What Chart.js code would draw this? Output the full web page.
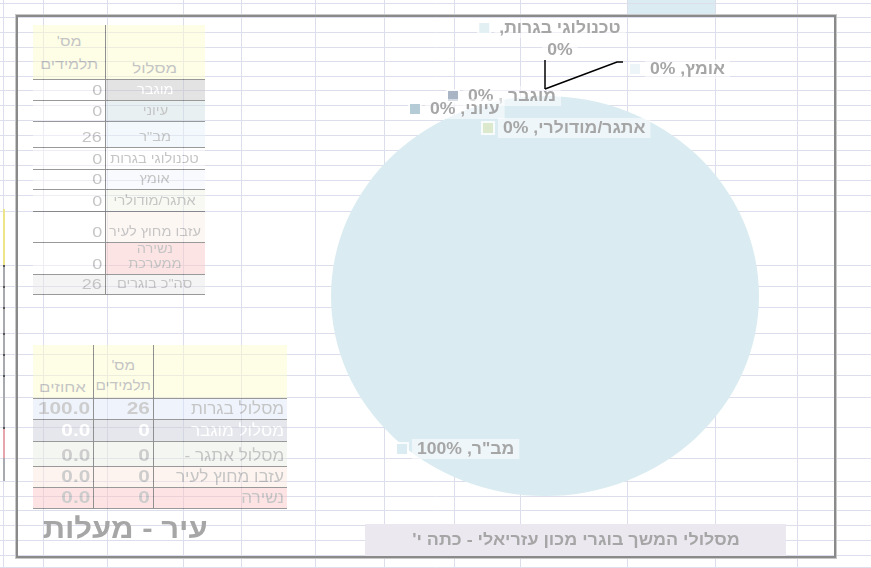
<!DOCTYPE html>
<html lang="he">
<head>
<meta charset="utf-8">
<title>מסלולי המשך</title>
<script src="https://cdn.jsdelivr.net/npm/chart.js@4/dist/chart.umd.min.js"></script>
<style>
  body { margin: 0; background: #fff; }
  #sheet { position: relative; width: 871px; height: 568px; overflow: hidden;
           font-family: "Liberation Sans", Arial, "DejaVu Sans", sans-serif; }
  #pie { position: absolute; left: 0; top: 0; }
  .tbl { position: absolute; left: 0; top: 0; opacity: 0.5; }
  .cell { position: absolute; box-sizing: border-box; display: flex; align-items: flex-end;
          justify-content: center; color: #8a8a8a; font-size: 13px; line-height: 15px;
          padding: 0 3px 3px; border-bottom: 1px solid #333; direction: rtl; text-align: center;
          white-space: nowrap; }
  .cell span { display: inline-block; }
  .num { justify-content: flex-start; }
  .vline { position: absolute; width: 1px; background: #222; }
  #city { position: absolute; right: 663px; top: 513px; font-size: 28px; font-weight: bold;
          color: #a6a6a6; direction: rtl; white-space: nowrap;
          transform: scaleX(1.11); transform-origin: right center; }
</style>
</head>
<body>
<div id="sheet">
  <canvas id="pie" width="871" height="568"></canvas>
  <div class="tbl" id="t1"></div>
  <div class="tbl" id="t2"></div>
  <div id="city">עיר - מעלות</div>
</div>
<script>
'use strict';

// pie slices
const tracks = ['מוגבר ', 'עיוני', 'מב"ר', 'טכנולוגי בגרות', 'אומץ', 'אתגר/מודולרי'];
const students = [0, 0, 26, 0, 0, 0];
const sliceColors = ['#a9b5c5', '#b5ccd6', '#daecf1', '#e2f0f3', '#eef5f8', '#dde9cd'];

// extra rows of the first table
const otherRows = ['עזבו מחוץ לעיר', 'נשירה ממערכת'];
const otherCounts = [0, 0];

// summary table
const summaryNames = ['מסלול בגרות', 'מסלול מוגבר', 'מסלול אתגר -', 'עזבו מחוץ לעיר', 'נשירה'];
const summaryCounts = [26, 0, 0, 0, 0];

const chartTitle = "מסלולי המשך בוגרי מכון עזריאלי - כתה י'";
const fontStack = '"Liberation Sans", Arial, "DejaVu Sans", sans-serif';
const greyText = '#a6a6a6';
const textStretch = 1.1;   // the sheet was captured slightly wide

// ---------- spreadsheet background ----------
const colEdges = [3, 43, 107, 183, 241, 315, 384, 454, 520, 627, 715, 797];
const rowEdges = [3, 17, 32, 47, 61, 76, 90, 105, 120, 135, 150, 165, 180, 195, 211,
                  265, 286, 307, 333, 354, 375, 397, 427, 458, 481, 496, 510, 525, 540, 555, 567];

const sheetGrid = {
    id: 'sheetGrid',
    beforeDraw(chart) {
        const ctx = chart.ctx;
        ctx.save();
        ctx.fillStyle = '#fff';
        ctx.fillRect(0, 0, chart.width, chart.height);
        ctx.fillStyle = '#daecf1';
        ctx.fillRect(627, 0, 88, 15);
        ctx.strokeStyle = '#dcdeeb';
        ctx.lineWidth = 1;
        ctx.beginPath();
        colEdges.forEach(x => { ctx.moveTo(x + 0.5, 0); ctx.lineTo(x + 0.5, chart.height); });
        rowEdges.forEach(y => { ctx.moveTo(0, y + 0.5); ctx.lineTo(chart.width, y + 0.5); });
        ctx.stroke();
        // edge of a neighbouring object cut off at the left
        ctx.fillStyle = '#a8aab0';
        ctx.fillRect(3, 209, 2, 272);
        ctx.fillStyle = '#ece58a';
        ctx.fillRect(3, 209, 2, 56);
        ctx.fillStyle = '#e6a4ac';
        ctx.fillRect(3, 427, 2, 31);
        ctx.fillStyle = '#555';
        [265, 286, 307, 333, 354, 375, 427].forEach(y => ctx.fillRect(3, y, 2, 2));
        ctx.restore();
    }
};

// the worksheet pie is a little wider than tall
const pieStretch = {
    id: 'pieStretch',
    beforeDatasetsDraw(chart, args, opts) {
        const a = chart.chartArea;
        const cx = (a.left + a.right) / 2;
        chart.ctx.save();
        chart.ctx.translate(cx, 0);
        chart.ctx.scale(opts.sx, 1);
        chart.ctx.translate(-cx, 0);
    },
    afterDatasetsDraw(chart) {
        chart.ctx.restore();
    }
};

function wideText(ctx, txt, x, y) {
    ctx.save();
    ctx.translate(x, y);
    ctx.scale(textStretch, 1);
    ctx.fillText(txt, 0, 0);
    ctx.restore();
}

const sliceLabels = {
    id: 'sliceLabels',
    afterDraw(chart, args, opts) {
        const ctx = chart.ctx;
        const meta = chart.getDatasetMeta(0);
        const values = chart.data.datasets[0].data;
        const colors = chart.data.datasets[0].backgroundColor;
        const total = values.reduce((s, v) => s + v, 0);
        const sx = chart.options.plugins.pieStretch.sx;

        ctx.save();
        ctx.font = 'bold 16px ' + fontStack;
        ctx.direction = 'rtl';
        ctx.textBaseline = 'middle';
        ctx.textAlign = 'left';
        meta.data.forEach((arc, i) => {
            const p = opts.place[i];
            const mid = (arc.startAngle + arc.endAngle) / 2;
            const ax = arc.x + Math.cos(mid) * (arc.outerRadius * sx + 7);
            const ay = arc.y + Math.sin(mid) * (arc.outerRadius + 7);
            const pct = Math.round(values[i] / total * 100) + '%';
            const name = chart.data.labels[i];
            const lines = p.wrap ? [name + ',', pct] : [name + ', ' + pct];
            const y0 = arc.y + p.dy;

            // leader line
            ctx.strokeStyle = '#000';
            ctx.lineWidth = 1.5;
            if (p.leader === 'up') {
                ctx.beginPath();
                ctx.moveTo(ax, ay);
                ctx.lineTo(ax, y0 + 32);
                ctx.stroke();
            }

            lines.forEach((txt, k) => {
                const w = ctx.measureText(txt).width * textStretch;
                const y = y0 + k * 22;
                const left = p.wrap ? arc.x + p.dx - w / 2 : arc.x + p.dx;
                ctx.fillStyle = 'rgba(255,255,255,0.55)';
                ctx.fillRect(left - 5, y - 10, w + 10, 20);
                ctx.fillStyle = greyText;
                wideText(ctx, txt, left, y + 1);
                if (k === 0) {
                    ctx.fillStyle = 'rgba(255,255,255,0.8)';
                    ctx.fillRect(left - 22, y - 7, 14, 14);
                    ctx.fillStyle = colors[i];
                    ctx.fillRect(left - 20, y - 5, 10, 10);
                    if (p.leader === 'elbow') {
                        ctx.beginPath();
                        ctx.moveTo(ax, ay);
                        ctx.lineTo(left - 33, y - 7);
                        ctx.lineTo(left - 27, y - 7);
                        ctx.stroke();
                    }
                }
            });
        });
        ctx.restore();
    }
};

const chartFrame = {
    id: 'chartFrame',
    afterDraw(chart) {
        const ctx = chart.ctx;
        ctx.save();
        // title bar
        ctx.fillStyle = '#ebe8f0';
        ctx.fillRect(365, 524, 421, 33);
        ctx.font = 'bold 16px ' + fontStack;
        ctx.direction = 'rtl';
        ctx.textBaseline = 'middle';
        ctx.textAlign = 'left';
        ctx.fillStyle = greyText;
        const w = ctx.measureText(chartTitle).width * 1.12;
        ctx.save();
        ctx.translate(576 - w / 2, 541);
        ctx.scale(1.12, 1);
        ctx.fillText(chartTitle, 0, 0);
        ctx.restore();
        // chart border
        ctx.strokeStyle = '#c8c8c8';
        ctx.lineWidth = 1;
        ctx.strokeRect(15.5, 14.5, 821, 544);
        ctx.strokeStyle = '#8a8a8a';
        ctx.lineWidth = 2;
        ctx.strokeRect(17, 16, 818, 541);
        ctx.restore();
    }
};

const ctx = document.querySelector('#pie').getContext('2d');
const pieChart = new Chart(ctx, {
    type: 'pie',
    data: {
        labels: tracks,
        datasets: [{
            data: students,
            backgroundColor: sliceColors,
            borderWidth: 0,
            hoverOffset: 0
        }]
    },
    options: {
        responsive: false,
        animation: false,
        events: [],
        layout: { padding: { left: 345, right: 126, top: 96, bottom: 72 } },
        plugins: {
            legend: { display: false },
            tooltip: { enabled: false },
            title: { display: false },
            pieStretch: { sx: 1.07 },
            sliceLabels: {
                place: [
                    { dx: -77, dy: -200 },
                    { dx: -115, dy: -187 },
                    { dx: -128, dy: 153 },
                    { dx: 15, dy: -268, wrap: true, leader: 'up' },
                    { dx: 105, dy: -227, leader: 'elbow' },
                    { dx: -42, dy: -168 }
                ]
            }
        }
    },
    plugins: [sheetGrid, pieStretch, sliceLabels, chartFrame]
});

// ---------- the two pasted tables (pictures, stretched sideways) ----------
function cell(parent, x, y, w, h, html, bg, opt) {
    opt = opt || {};
    const d = document.createElement('div');
    d.className = 'cell' + (opt.num ? ' num' : '');
    d.style.left = x + 'px';
    d.style.top = y + 'px';
    d.style.width = w + 'px';
    d.style.height = h + 'px';
    d.style.background = bg;
    if (opt.color) d.style.color = opt.color;
    const s = document.createElement('span');
    s.innerHTML = html;
    s.style.fontSize = (opt.size || 13) + 'px';
    if (opt.lh) s.style.lineHeight = opt.lh + 'px';
    if (opt.bold) s.style.fontWeight = 'bold';
    s.style.transform = 'scaleX(' + (opt.sx || 1.12) + ')';
    s.style.transformOrigin = opt.num ? 'right bottom' : 'center bottom';
    d.appendChild(s);
    parent.appendChild(d);
}
function vline(parent, x, y, h) {
    const d = document.createElement('div');
    d.className = 'vline';
    d.style.left = x + 'px';
    d.style.top = y + 'px';
    d.style.height = h + 'px';
    parent.appendChild(d);
}

const t1 = document.querySelector('#t1');
const t1Rows = [80, 101, 122, 148, 170, 190, 212, 243, 275, 295];
const t1Fill = ['#c7c7c7', '#d1e1e5', '#e5f1f7', '#ffffff', '#f1f5fb', '#eff3e5', '#fbefe9', '#fbc9c9', '#e9e9e9'];
const t1Names = tracks.map(s => s.trim()).concat(otherRows).concat(['סה"כ בוגרים']);
const t1Counts = students.concat(otherCounts);
t1Counts.push(t1Counts.reduce((s, v) => s + v, 0));
cell(t1, 33, 25, 72, 55, "מס'<br>תלמידים", '#fdfdcc', { size: 14, sx: 1.15, lh: 23 });
cell(t1, 105, 25, 100, 55, 'מסלול', '#fdfdcc', { size: 14, sx: 1.2 });
t1Names.forEach((name, i) => {
    const y = t1Rows[i], h = t1Rows[i + 1] - y;
    const last = i === t1Names.length - 1;
    cell(t1, 33, y, 72, h, String(t1Counts[i]), last ? '#e9e9e9' : '#ffffff',
         { num: true, size: 15, sx: 1.2 });
    const label = name === 'נשירה ממערכת' ? 'נשירה<br>ממערכת' : name;
    cell(t1, 105, y, 100, h, label, t1Fill[i], { size: 13, sx: 1.12, color: i === 0 ? '#ffffff' : '' });
});
vline(t1, 105, 25, 270);

const t2 = document.querySelector('#t2');
const t2Rows = [399, 420, 442, 467, 488, 509];
const t2Fill = ['#dde7f9', '#cdcfd9', '#e9efe3', '#fbe9df', '#fbc7c7'];
const summaryTotal = summaryCounts.reduce((s, v) => s + v, 0);
cell(t2, 33, 345, 60, 54, 'אחוזים', '#fdfdcc', { size: 14, sx: 1.2 });
cell(t2, 93, 345, 60, 54, "מס'<br>תלמידים", '#fdfdcc', { size: 14, sx: 1.1, lh: 20 });
cell(t2, 153, 345, 134, 54, '', '#fdfdcc');
summaryNames.forEach((name, i) => {
    const y = t2Rows[i], h = t2Rows[i + 1] - y;
    const col = i === 1 ? '#ffffff' : '#9a9a9a';
    const pct = (summaryCounts[i] / summaryTotal * 100).toFixed(1);
    const numOpt = { num: true, size: 16, sx: 1.3, bold: true, color: col };
    cell(t2, 33, y, 60, h, pct, t2Fill[i], numOpt);
    cell(t2, 93, y, 60, h, String(summaryCounts[i]), t2Fill[i], numOpt);
    cell(t2, 153, y, 134, h, name, t2Fill[i], { num: true, size: 16, sx: 1.07, color: i === 1 ? '#ffffff' : '' });
});
vline(t2, 93, 345, 164);
vline(t2, 153, 345, 164);
</script>
</body>
</html>
